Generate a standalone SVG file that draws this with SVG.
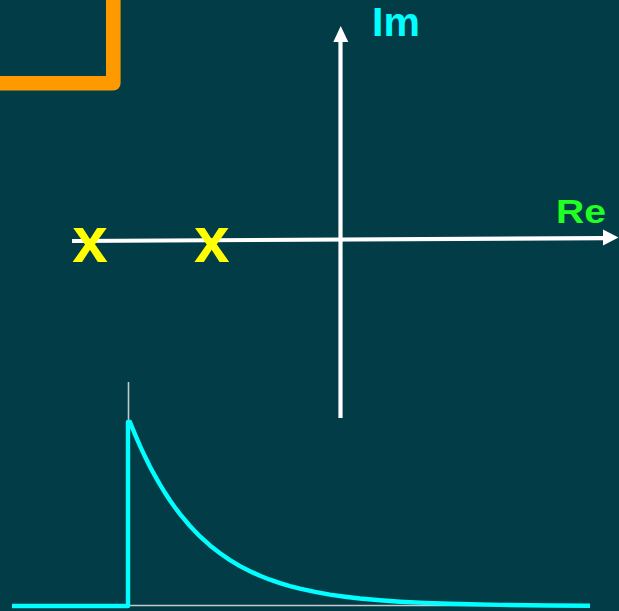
<svg xmlns="http://www.w3.org/2000/svg" width="619" height="611" viewBox="0 0 619 611">
<style>
.axis{stroke:#ffffff;stroke-width:4.2;fill:none}
.head{fill:#ffffff}
.lbl{font-family:"Liberation Sans",Arial,sans-serif;font-weight:bold}
.pole{font-family:"Liberation Sans",Arial,sans-serif;font-weight:bold;font-size:64px;fill:#ffff00;text-anchor:middle}
.sig{stroke:#00ffff;stroke-width:4.4;fill:none;stroke-linejoin:round}
.grid{stroke:#c8c8c8;stroke-width:1.6;fill:none}
</style>
<rect x="0" y="0" width="619" height="611" fill="#013c47"/>
<g id="frame">
<path d="M113.3,-10 V83.3 H-10" stroke="#ff9900" stroke-width="14.6" fill="none" stroke-linejoin="round"/>
</g>
<g id="connectors">
<line class="axis" x1="340.5" y1="418" x2="340.5" y2="40"/>
<polygon class="head" points="340.7,26 348.3,42 333.3,42"/>
<line class="axis" x1="72" y1="241" x2="605" y2="238.1"/>
<polygon class="head" points="618.5,237.5 603,229.5 603,245.5"/>
</g>
<g id="label-im"><text class="lbl" x="372" y="36" font-size="41" fill="#00ffff">Im</text></g>
<g id="label-re"><text class="lbl" x="556" y="222.5" font-size="34" fill="#22ff22" textLength="50" lengthAdjust="spacingAndGlyphs">Re</text></g>
<g id="pole1"><text class="pole" x="90" y="262">x</text></g>
<g id="pole2"><text class="pole" x="211.7" y="262">x</text></g>
<g id="response">
<line class="grid" x1="128.5" y1="382" x2="128.5" y2="606"/>
<line class="grid" x1="128.5" y1="605.5" x2="590" y2="605.5"/>
<polyline class="sig" points="12,606 128,606 128,422 130,422 135,434.3 140,445.9 145,456.6 150,466.7 155,475.9 160,484.7 165,492.8 170,500.5 175,507.5 180,514.1 190,526 200,536.4 210,545.4 220,553.3 230,560.1 240,566.1 250,571.2 260,575.8 270,579.7 280,583.1 290,586.1 300,588.6 315,591.9 330,594.6 345,596.7 360,598.5 380,600.3 400,601.7 425,602.9 450,603.8 500,604.9 550,605.5 590,605.7"/>
</g>
</svg>
